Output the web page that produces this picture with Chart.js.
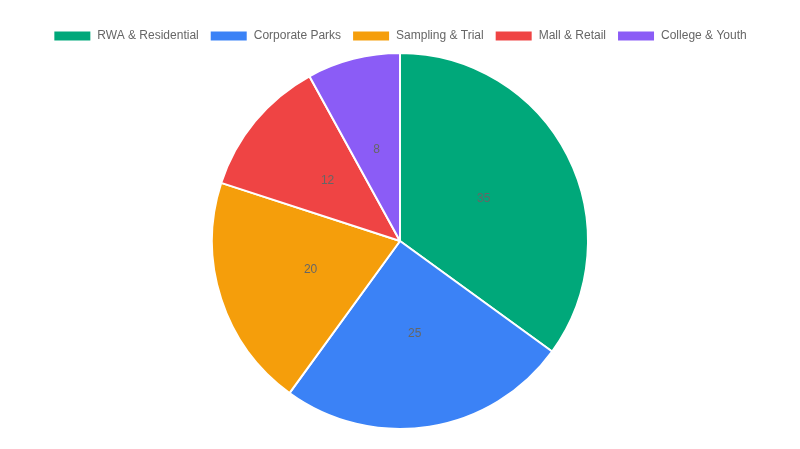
<!DOCTYPE html>
<html>
<head>
<meta charset="utf-8">
<script src="https://cdn.jsdelivr.net/npm/chart.js@4"></script>
<style>
  html, body { margin: 0; padding: 0; background: #fff; }
  #wrap { width: 800px; height: 449px; }
</style>
</head>
<body>
<div id="wrap"><canvas id="pieChart"></canvas></div>
<script>
// Chart data
var categories = ["RWA & Residential", "Corporate Parks", "Sampling & Trial", "Mall & Retail", "College & Youth"];
var shares = [35, 25, 20, 12, 8];
var sliceColors = ["#00a87a", "#3b82f6", "#f59e0b", "#ef4444", "#8b5cf6"];

// Draws the value in the middle of each slice
var sliceValues = {
    id: "sliceValues",
    afterDatasetsDraw: function (chart) {
        var ctx = chart.ctx;
        var meta = chart.getDatasetMeta(0);
        ctx.save();
        ctx.font = "12px 'Liberation Sans', Arial, sans-serif";
        ctx.fillStyle = "#666";
        ctx.textAlign = "center";
        ctx.textBaseline = "middle";
        meta.data.forEach(function (arc, i) {
            var pos = arc.tooltipPosition();
            ctx.fillText(String(chart.data.datasets[0].data[i]), pos.x, pos.y);
        });
        ctx.restore();
    }
};

var ctx = document.getElementById("pieChart").getContext("2d");
var chart = new Chart(ctx, {
    type: "pie",
    data: {
        labels: categories,
        datasets: [{
            data: shares,
            backgroundColor: sliceColors,
            borderColor: "#fff",
            borderWidth: 2
        }]
    },
    options: {
        responsive: true,
        maintainAspectRatio: false,
        animation: false,
        layout: { padding: { top: 19, bottom: 19 } },
        plugins: {
            legend: {
                position: "top",
                labels: {
                    boxWidth: 38,
                    boxHeight: 11,
                    padding: 11,
                    color: "#666",
                    font: { size: 12, family: "'Liberation Sans', Arial, sans-serif" }
                }
            },
            tooltip: { enabled: false }
        }
    },
    plugins: [sliceValues]
});
</script>
</body>
</html>
